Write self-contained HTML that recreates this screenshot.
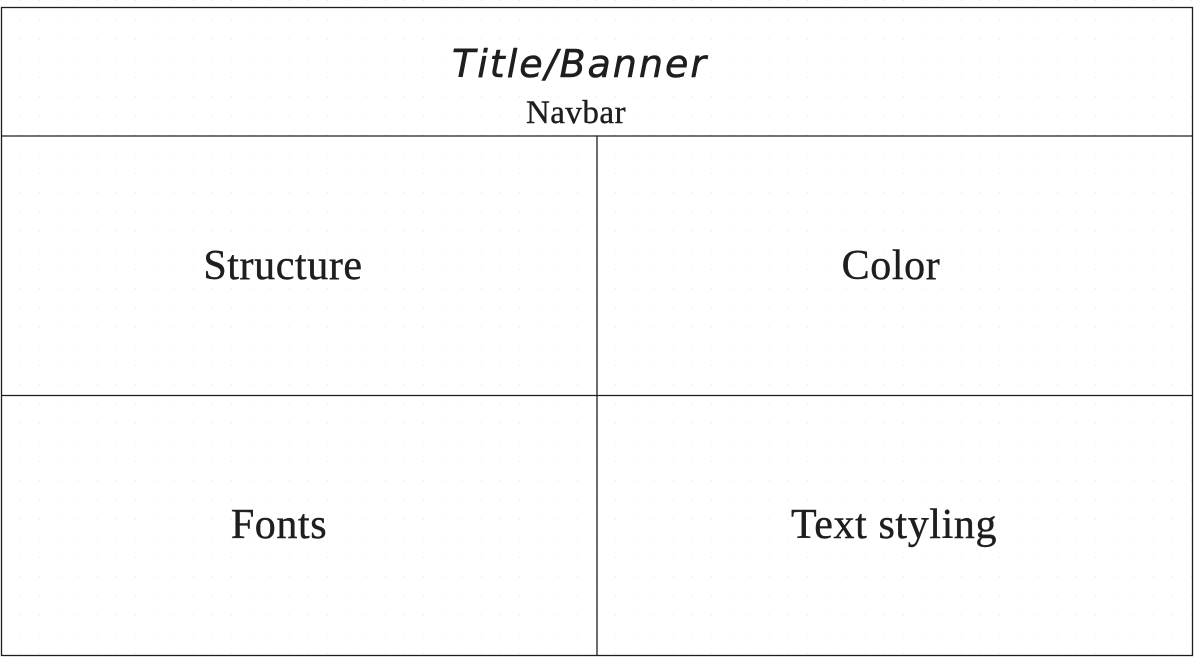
<!DOCTYPE html>
<html><head><style>
html,body{margin:0;padding:0;width:1196px;height:661px;background:#fff;overflow:hidden}
svg{display:block}
.s{font-family:"Liberation Serif",serif;fill:#1e1e1e;stroke:#1e1e1e;stroke-width:0.4}
</style></head><body>
<svg width="1196" height="661" xmlns="http://www.w3.org/2000/svg">
<g fill="#c4c4c4">
<script type="text/plain"></script>
</g>
<defs><pattern id="d" x="1.5" y="1" width="19.2" height="19.2" patternUnits="userSpaceOnUse"><rect x="0" y="0" width="19.2" height="19.2" fill="#fff"/><rect x="18.5" y="18.5" width="1.6" height="1.6" fill="#cfcfcf"/></pattern></defs>
<rect x="0" y="0" width="1196" height="661" fill="url(#d)"/>
<g fill="none" stroke="#1e1e1e" stroke-width="1.3">
<rect x="1.5" y="7.5" width="1191" height="648"/>
<line x1="1.5" y1="136" x2="1192.5" y2="136"/>
<line x1="1.5" y1="395.5" x2="1192.5" y2="395.5"/>
<line x1="597" y1="136" x2="597" y2="655.5"/>
</g>
<text x="580" y="77" text-anchor="middle" font-family="'DejaVu Sans',sans-serif" font-style="italic" font-size="38" fill="#1e1e1e" stroke="#1e1e1e" stroke-width="0.6" letter-spacing="2">Title/Banner</text>
<text class="s" x="576" y="123" text-anchor="middle" font-size="33" letter-spacing="0.5">Navbar</text>
<text class="s" x="283" y="279" text-anchor="middle" font-size="42" letter-spacing="0.6">Structure</text>
<text class="s" x="891" y="279" text-anchor="middle" font-size="42" letter-spacing="0.6">Color</text>
<text class="s" x="279" y="538" text-anchor="middle" font-size="42" letter-spacing="0.6">Fonts</text>
<text class="s" x="894" y="538" text-anchor="middle" font-size="42" letter-spacing="0.6">Text styling</text>
</svg>
</body></html>
